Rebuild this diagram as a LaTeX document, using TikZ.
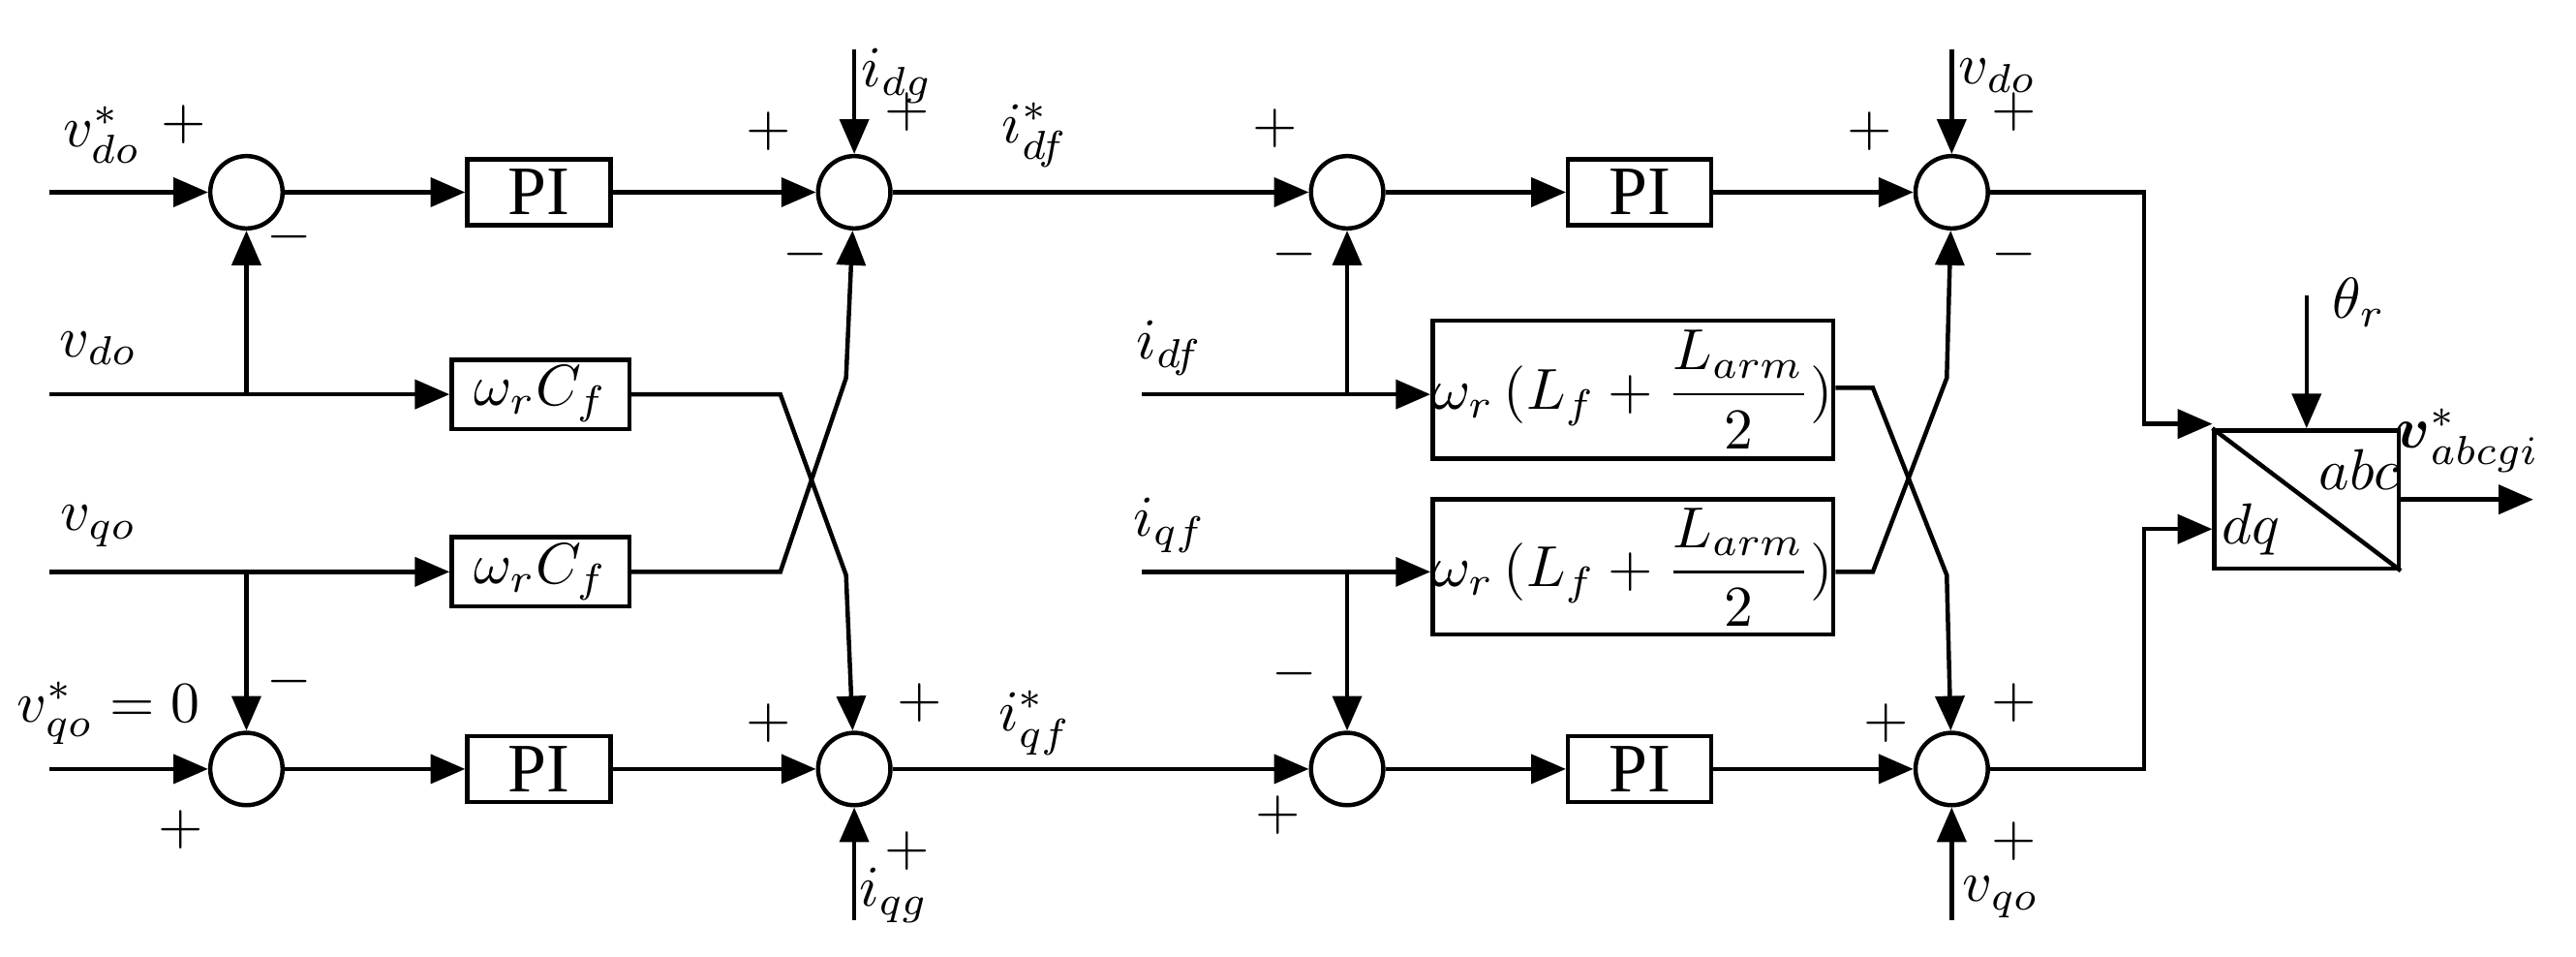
\documentclass[tikz,border=0pt]{standalone}
\usepackage{amsmath}
\usepackage{fontspec}
\setmainfont{Liberation Serif}
\usetikzlibrary{arrows.meta}
\begin{document}
\begin{tikzpicture}[x=0.01cm,y=-0.01cm,line width=0.75pt,
  >={Triangle[length=6pt,width=5pt]},
  font=\fontsize{10}{12}\selectfont,
  sum/.style={circle,draw,minimum size=0.44cm,inner sep=0pt},
  blk/.style={draw,inner sep=0pt},
  lbl/.style={inner sep=1pt}]
\useasboundingbox (0,0) rectangle (1568,582);
% sums
\node[sum] (s1) at (150,117) {};
\node[sum] (s2) at (520,117) {};
\node[sum] (s3) at (820,117) {};
\node[sum] (s4) at (1188,117) {};
\node[sum] (s5) at (150,468) {};
\node[sum] (s6) at (520,468) {};
\node[sum] (s7) at (820,468) {};
\node[sum] (s8) at (1188,468) {};
% blocks
\node[blk,minimum width=0.87cm,minimum height=0.4cm] (pi1) at (328,117) {\fontsize{12}{14}\selectfont PI};
\node[blk,minimum width=0.87cm,minimum height=0.4cm] (pi2) at (998,117) {\fontsize{12}{14}\selectfont PI};
\node[blk,minimum width=0.87cm,minimum height=0.4cm] (pi3) at (328,468) {\fontsize{12}{14}\selectfont PI};
\node[blk,minimum width=0.87cm,minimum height=0.4cm] (pi4) at (998,468) {\fontsize{12}{14}\selectfont PI};
\node[blk,minimum width=1.08cm,minimum height=0.42cm] (c1) at (329,240) {$\omega_r C_f$};
\node[blk,minimum width=1.08cm,minimum height=0.42cm] (c2) at (329,348) {$\omega_r C_f$};
\node[blk,minimum width=2.08cm,minimum height=0.84cm] (l1) at (994,237) {$\omega_r\,(L_f+\dfrac{L_{arm}}{2})$};
\node[blk,minimum width=2.08cm,minimum height=0.82cm] (l2) at (994,345) {$\omega_r\,(L_f+\dfrac{L_{arm}}{2})$};
\node[blk,minimum width=1.12cm,minimum height=0.84cm] (tr) at (1404,304) {};
\draw (tr.north west) -- (tr.south east);
\node at (1370,322) {$dq$};
\node at (1436,286) {$abc$};
% coordinates
\coordinate (a1) at (30,117); \coordinate (a2) at (30,240);
\coordinate (a3) at (30,348); \coordinate (a4) at (30,468);
\coordinate (b1) at (695,240); \coordinate (b2) at (695,348);
\coordinate (t1) at (520,30); \coordinate (t2) at (1188,30);
\coordinate (u1) at (520,560); \coordinate (u2) at (1188,560);
\coordinate (th) at (1404,180); \coordinate (out) at (1542,304);
% left
\draw[->] (a1) -- (s1);
\draw[->] (a2) -- (c1);
\draw[->] (150,240) -- (s1);
\draw[->] (a3) -- (c2);
\draw[->] (150,348) -- (s5);
\draw[->] (a4) -- (s5);
\draw[->] (s1) -- (pi1);
\draw[->] (s5) -- (pi3);
\draw[->] (pi1) -- (s2);
\draw[->] (pi3) -- (s6);
\draw[->] (c1.east) -- (475,240) -- (515,350) -- (s6);
\draw[->] (c2.east) -- (475,348) -- (515,230) -- (s2);
\draw[->] (t1) -- (s2);
\draw[->] (u1) -- (s6);
\draw[->] (s2) -- (s3);
\draw[->] (s6) -- (s7);
% right
\draw[->] (b1) -- (l1.west|-b1);
\draw[->] (820,240) -- (s3);
\draw[->] (b2) -- (l2.west|-b2);
\draw[->] (820,348) -- (s7);
\draw[->] (s3) -- (pi2);
\draw[->] (s7) -- (pi4);
\draw[->] (pi2) -- (s4);
\draw[->] (pi4) -- (s8);
\draw[->] (l1.east|-0,236) -- (1140,236) -- (1185,350) -- (s8);
\draw[->] (l2.east|-0,348) -- (1140,348) -- (1185,230) -- (s4);
\draw[->] (t2) -- (s4);
\draw[->] (u2) -- (s8);
\draw[->] (s4) -- (1305,117) -- (1305,258) -- (tr.west|-0,258);
\draw[->] (s8) -- (1305,468) -- (1305,322) -- (tr.west|-0,322);
\draw[->] (th) -- (tr);
\draw[->] (tr) -- (out);
% labels
\node[lbl] at (62,82) {$v_{do}^{*}$};
\node[lbl] at (112,76) {$+$};
\node[lbl] at (176,144) {$-$};
\node[lbl] at (60,212) {$v_{do}$};
\node[lbl] at (60,320) {$v_{qo}$};
\node[lbl] at (176,415) {$-$};
\node[lbl] at (66,434) {$v_{qo}^{*}=0$};
\node[lbl] at (110,505) {$+$};
\node[lbl] at (546,46) {$i_{dg}$};
\node[lbl] at (468,80) {$+$};
\node[lbl] at (552,68) {$+$};
\node[lbl] at (490,155) {$-$};
\node[lbl] at (630,82) {$i_{df}^{*}$};
\node[lbl] at (776,78) {$+$};
\node[lbl] at (788,155) {$-$};
\node[lbl] at (712,212) {$i_{df}$};
\node[lbl] at (712,320) {$i_{qf}$};
\node[lbl] at (788,410) {$-$};
\node[lbl] at (778,496) {$+$};
\node[lbl] at (468,440) {$+$};
\node[lbl] at (560,428) {$+$};
\node[lbl] at (630,440) {$i_{qf}^{*}$};
\node[lbl] at (544,545) {$i_{qg}$};
\node[lbl] at (552,518) {$+$};
\node[lbl] at (1216,46) {$v_{do}$};
\node[lbl] at (1138,80) {$+$};
\node[lbl] at (1226,68) {$+$};
\node[lbl] at (1226,155) {$-$};
\node[lbl] at (1148,440) {$+$};
\node[lbl] at (1226,428) {$+$};
\node[lbl] at (1226,512) {$+$};
\node[lbl] at (1218,546) {$v_{qo}$};
\node[lbl] at (1436,184) {$\theta_r$};
\node[lbl] at (1502,268) {$\boldsymbol{v}_{abcgi}^{*}$};
\end{tikzpicture}
\end{document}
